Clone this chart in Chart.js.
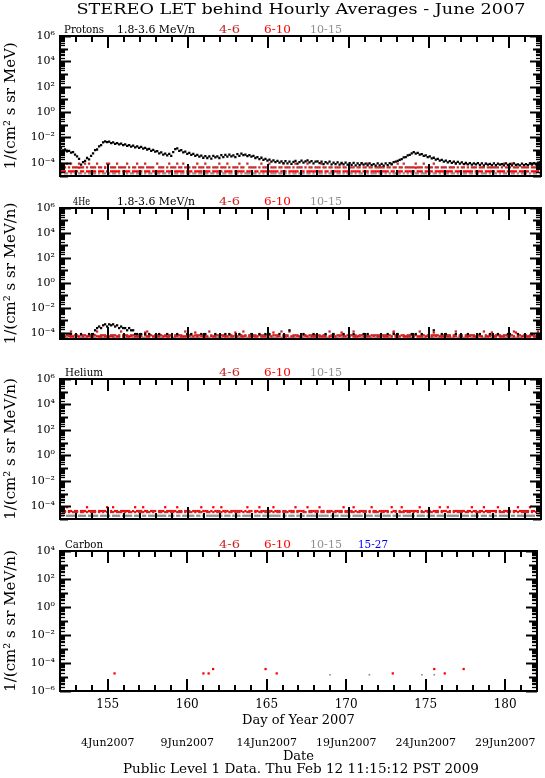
<!DOCTYPE html>
<html>
<head>
<meta charset="utf-8">
<script src="https://cdn.jsdelivr.net/npm/chart.js@4.4.0/dist/chart.umd.min.js"></script>
<style>
html, body { margin: 0; padding: 0; background: #fff; }
body { width: 545px; height: 778px; position: relative; overflow: hidden; }
canvas { position: absolute; left: 0px; }
</style>
</head>
<body>
<canvas id="c1" width="545" height="190" style="top:0px"></canvas>
<canvas id="c2" width="545" height="172" style="top:190px"></canvas>
<canvas id="c3" width="545" height="172" style="top:362px"></canvas>
<canvas id="c4" width="545" height="244" style="top:534px"></canvas>
<script>
var DAY_FIRST = 152;
var DAY_LAST = 182;
var STEP_HOURS = 3;

var dayTicks = [155, 160, 165, 170, 175, 180];
var dateLabels = ['4Jun2007', '9Jun2007', '14Jun2007', '19Jun2007', '24Jun2007', '29Jun2007'];

var yExpTop6 = [-4, -2, 0, 2, 4, 6];
var yLabTop6 = ['10\u207B\u2074', '10\u207B\u00B2', '10\u2070', '10\u00B2', '10\u2074', '10\u2076'];
var yExpTop4 = [-6, -4, -2, 0, 2, 4];
var yLabTop4 = ['10\u207B\u2076', '10\u207B\u2074', '10\u207B\u00B2', '10\u2070', '10\u00B2', '10\u2074'];

// protons 1.8-3.6 MeV, log10 of flux, 8 three-hour values per day
var protonLow = [
  -2.85, -3.02, -2.95, -3.1, -3.05, -3.2, -3.15, -3.35,
  -3.5, -3.68, -4.15, -3.95, -3.85, -3.62, -3.72, -3.45,
  -3.25, -3.0, -2.95, -2.7, -2.6, -2.38, -2.3, -2.36,
  -2.33, -2.45, -2.38, -2.5, -2.44, -2.55, -2.48, -2.6,
  -2.55, -2.66, -2.6, -2.72, -2.65, -2.78, -2.7, -2.82,
  -2.75, -2.88, -2.82, -2.95, -2.9, -3.05, -2.98, -3.12,
  -3.08, -3.25, -3.18, -3.35, -3.28, -3.42, -3.3, -3.45,
  -3.15, -2.92, -2.86, -3.05, -3.0, -3.18, -3.12, -3.3,
  -3.22, -3.38, -3.3, -3.45, -3.38, -3.52, -3.44, -3.6,
  -3.48, -3.62, -3.5, -3.66, -3.45, -3.58, -3.5, -3.62,
  -3.4, -3.55, -3.38, -3.52, -3.36, -3.5, -3.42, -3.56,
  -3.32, -3.45, -3.28, -3.4, -3.35, -3.48, -3.4, -3.52,
  -3.45, -3.62, -3.55, -3.7, -3.6, -3.76, -3.68, -3.82,
  -3.74, -3.9, -3.8, -3.95, -3.85, -3.98, -3.88, -4.02,
  -3.86, -4.05, -3.9, -4.08, -3.92, -3.85, -4.06, -3.95,
  -3.82, -3.98, -3.88, -3.8, -3.96, -3.86, -4.04, -3.9,
  -3.88, -4.02, -3.9, -4.1, -3.94, -4.05, -3.9, -4.12,
  -3.98, -4.1, -3.96, -4.14, -4.0, -4.12, -3.98, -4.15,
  -4.02, -4.16, -4.0, -4.2, -4.05, -4.18, -4.02, -4.15,
  -4.06, -4.2, -4.04, -4.18, -4.1, -4.22, -4.05, -4.2,
  -4.08, -4.22, -4.05, -4.18, -4.02, -4.12, -3.95, -3.9,
  -3.85, -3.76, -3.7, -3.58, -3.55, -3.42, -3.38, -3.25,
  -3.15, -3.28, -3.22, -3.36, -3.32, -3.45, -3.42, -3.55,
  -3.5, -3.65, -3.6, -3.75, -3.68, -3.82, -3.76, -3.9,
  -3.82, -3.96, -3.86, -4.0, -3.9, -4.04, -3.92, -4.06,
  -3.96, -4.1, -4.0, -4.12, -4.02, -4.15, -4.04, -4.12,
  -4.02, -4.16, -4.05, -4.2, -4.06, -4.14, -4.08, -4.18,
  -4.04, -4.18, -4.06, -4.15, -4.1, -4.2, -4.05, -4.16,
  -4.08, -4.2, -4.04, -4.16, -4.12, -4.2, -4.06, -4.18,
  -4.1, -4.18, -4.05, -4.14, -4.02, -4.12, -3.98, -3.95
];

// low-count channels: counts per 3-hour bin (0 = empty), one group of 8 per day
var protonCh46 = "21121211 12112121 11211012 21112111 12101121 11211110 21110121 11211211 10112111 21101112 11121011 12110211 11012111 21110112 11101211 10121101 11211011 01112110 11101121 12110111 11011211 21121111 12111211 11211011 10111210 11210111 01112111 11101211 12111011 11211112";
var protonCh610 = "11101111 12110111 11011121 01111101 11101111 10111011 11110111 01111101 11011110 11101111 10111101 11110111 01101111 11111011 10111110 11011111 11101101 11110111 01111101 11011111 11110110 11101111 12111011 11011111 11110111 01111101 11101111 10111101 11110111 11011112";
var protonCh1015 = "10110101 01101011 11010110 10110101 01011011 10101101 11011010 01101101 10110110 11011011 01101101 10101110 11010101 01110110 10101101 11011010 01101011 10110101 11010110 01011101 10101011 11010101 01101110 10110101 11011010 01101101 10111010 11010110 01101011 10101101";
var protonUnit46 = 4.4e-5, protonUnit610 = 2.1e-5, protonUnit1015 = 1.5e-5;

var he4Low = "01000100 00100010 12343564 65645343 32322110 10101000 01000100 00100001 01000010 10000100 00101000 01000001 00010010 10000100 00200000 01000010 00001000 10000100 00100001 01000000 00010010 10000001 01001000 00200010 10000100 00010000 01000010 00100001 10001000 00010011";
var he4Ch46 = "11011201 10111011 11201110 01110121 11011011 10121101 11101011 01111021 11011101 10210111 11101101 01121010 11011111 10111021 11201110 01101111 11011021 10111101 11210110 01011111 11101021 10110111 11021101 01111011 11101201 10111110 11021011 01110111 11201101 10111021";
var he4Ch610 = "01101110 11010111 10111011 11101101 01110111 10211011 11011110 01101111 10121011 11011101 01110112 10111011 11101110 01201101 11011011 10110111 01111011 11012110 10111101 11101011 01110121 11011110 10111011 01210111 11101101 10111011 01101112 11011101 10121011 11101110";
var he4Ch1015 = "11110111 01111101 11011111 10111101 11101111 01111011 11110110 11011111 01111101 11101111 10111110 11110111 01101111 11111011 10111101 11011111 01111110 11101111 10111011 11110111 01111101 11011111 10111110 11101111 01111011 11110111 10111101 11011111 01111110 11101111";
var he4UnitLow = 7.9e-5, he4Unit46 = 6.3e-5, he4Unit610 = 5.2e-5, he4Unit1015 = 4.0e-5;

var heCh46 = "01101011 10110101 11010101 01101110 10110101 11011010 01101101 10111010 11010110 01101011 10101101 11010110 01011011 10101101 11011010 01101101 10110110 11011011 01101101 10101110 11010101 01110110 10101101 11011010 01101011 10110101 11010110 01011101 10101011 11010101";
var heCh610 = "11121101 10111211 11011112 01211011 11101211 12110111 01112111 11211011 10111121 11012111 21110111 11101211 01121111 11211101 10111211 11021111 12110111 01111211 11210111 10121101 11110211 01211111 11121011 10111211 12101111 11011211 01121111 11210111 10112111 11211011";
var heCh1015 = "11011111 01111011 11101111 10111101 11110111 01101111 11111011 10110111 11101101 01111111 10111011 11011111 01110111 11111101 10111011 11011111 01111101 11101111 10111110 11110111 01111011 11011111 10111101 11101111 01111110 11110111 10111011 11011111 01101111 11111011";
var heUnit46 = 3.5e-5, heUnit610 = 4.2e-5, heUnit1015 = 1.8e-5;

// carbon: a few isolated hours
var carbon610Days = [155.43, 161.02, 161.35, 161.63, 164.93, 165.63, 172.93, 175.54, 176.2, 177.39, 181.97];
var carbon610Vals = [1.8e-5, 1.8e-5, 1.8e-5, 3.7e-5, 3.7e-5, 1.8e-5, 1.8e-5, 3.7e-5, 1.8e-5, 3.7e-5, 1.8e-5];
var carbon1015Days = [168.98, 171.46, 174.76, 175.54];
var carbon1015Vals = [1.45e-5, 1.45e-5, 1.45e-5, 1.45e-5];

var BLACK = '#000000', DKRED = '#c62828', RED = '#ff0000', GRAY = '#8f8f8f', BLUE = '#0000ff';
var FONT = 'DejaVu Serif';

function binDay(i) {
  return DAY_FIRST + (i + 0.5) * STEP_HOURS / 24;
}

function fromLog(arr) {
  return arr.map(function(v, i) { return {x: binDay(i), y: Math.pow(10, v)}; });
}

function fromCounts(str, unit) {
  var out = [];
  str.replace(/\s+/g, '').split('').forEach(function(c, i) {
    var n = Number(c);
    if (n > 0) out.push({x: binDay(i), y: n * unit});
  });
  return out;
}

function fromPairs(days, vals) {
  return days.map(function(d, i) { return {x: d, y: vals[i]}; });
}

function series(label, data, color, order, r) {
  return {
    label: label, data: data, order: order,
    backgroundColor: color, borderColor: color,
    pointStyle: 'rect', pointRadius: r || 1.6, pointBorderWidth: 0,
    showLine: false
  };
}

function fitText(ctx, text, left, y, w, font, color) {
  ctx.save();
  ctx.font = font;
  ctx.fillStyle = color;
  ctx.textBaseline = 'middle';
  ctx.textAlign = 'left';
  var tw = ctx.measureText(text).width;
  ctx.translate(left, y);
  ctx.scale(w / tw, 1);
  ctx.fillText(text, 0, 0);
  ctx.restore();
}

function seg(ctx, x1, y1, x2, y2) {
  ctx.beginPath();
  ctx.moveTo(x1, y1);
  ctx.lineTo(x2, y2);
  ctx.stroke();
}

// box round the plot, inward ticks on all four sides
var framePlugin = {
  id: 'frame',
  afterDraw: function(chart) {
    var ctx = chart.ctx, a = chart.chartArea;
    var xs = chart.scales.x, ys = chart.scales.y;
    var L = Math.round(a.left), R = Math.round(a.right);
    var T = Math.round(a.top), B = Math.round(a.bottom);
    ctx.save();
    ctx.strokeStyle = '#000';
    ctx.lineWidth = 2;
    ctx.strokeRect(L, T, R - L, B - T);
    for (var day = DAY_FIRST; day <= DAY_LAST; day++) {
      var px = Math.round(xs.getPixelForValue(day));
      var tl = day % 5 === 0 ? 12 : 6;
      seg(ctx, px, B, px, B - tl);
      seg(ctx, px, T, px, T + tl);
    }
    var lo = Math.log10(ys.min), hi = Math.log10(ys.max);
    for (var k = Math.floor(lo); k <= Math.ceil(hi); k++) {
      for (var mant = 1; mant < 10; mant++) {
        var v = mant * Math.pow(10, k);
        if (v < ys.min * 0.999 || v > ys.max * 1.001) continue;
        var py = Math.round(ys.getPixelForValue(v)) + 0.5;
        var yl = mant === 1 ? (k % 2 === 0 ? 11 : 8) : 5;
        ctx.lineWidth = mant === 1 ? 2 : 1.3;
        seg(ctx, L, py, L + yl, py);
        seg(ctx, R, py, R - yl, py);
      }
    }
    ctx.restore();
  }
};

var headerPlugin = {
  id: 'header',
  afterDraw: function(chart, args, opts) {
    var ctx = chart.ctx, a = chart.chartArea;
    (opts.items || []).forEach(function(it) {
      fitText(ctx, it.t, it.x, a.top - 6, it.w, '11px "' + FONT + '"', it.c);
    });
    (opts.free || []).forEach(function(it) {
      fitText(ctx, it.t, it.cx - it.w / 2, it.y, it.w, it.f, '#000');
    });
  }
};

function channelRow(name, nameX, nameW, withLow, withBlue) {
  var row = [{t: name, x: nameX, w: nameW, c: BLACK}];
  if (withLow) row.push({t: '1.8-3.6 MeV/n', x: 117, w: 78, c: BLACK});
  row.push({t: '4-6', x: 219, w: 21, c: DKRED});
  row.push({t: '6-10', x: 264, w: 27, c: RED});
  row.push({t: '10-15', x: 310, w: 32, c: GRAY});
  if (withBlue) row.push({t: '15-27', x: 358, w: 30, c: BLUE});
  return row;
}

function makePanel(id, opt) {
  var scales = {
    x: {
      type: 'linear', min: DAY_FIRST, max: DAY_LAST,
      display: false
    },
    y: {
      type: 'logarithmic', position: 'left',
      min: opt.yMin, max: opt.yMax,
      afterFit: function(s) { s.width = 60; },
      afterBuildTicks: function(s) {
        s.ticks = opt.yExp.map(function(e) { return {value: Math.pow(10, e)}; });
      },
      ticks: {
        autoSkip: false, padding: 5, color: '#000',
        font: {family: FONT, size: 11},
        callback: function(v, i) { return opt.yLab[i]; }
      },
      grid: {display: false, drawTicks: false},
      border: {display: false},
      title: {
        display: true, text: opt.yTitle, color: '#000',
        font: {family: FONT, size: 15}, padding: {top: 2, bottom: 0}
      }
    }
  };
  if (opt.bottomAxes) {
    scales.x = {
      type: 'linear', min: DAY_FIRST, max: DAY_LAST, position: 'bottom', weight: 1,
      afterFit: function(s) { s.height = 37; },
      afterBuildTicks: function(s) {
        s.ticks = dayTicks.map(function(d) { return {value: d}; });
      },
      ticks: {
        autoSkip: false, maxRotation: 0, padding: 7, color: '#000',
        font: {family: FONT, size: 12},
        callback: function(v) { return String(v); }
      },
      grid: {display: false, drawTicks: false},
      border: {display: false},
      title: {
        display: true, text: 'Day of Year 2007', color: '#000',
        font: {family: FONT, size: 13}, padding: {top: 0, bottom: 0}
      }
    };
    scales.xd = {
      type: 'linear', min: DAY_FIRST, max: DAY_LAST, position: 'bottom', weight: 2,
      afterFit: function(s) { s.height = 36; },
      afterBuildTicks: function(s) {
        s.ticks = dayTicks.map(function(d) { return {value: d}; });
      },
      ticks: {
        autoSkip: false, maxRotation: 0, padding: 9, color: '#000',
        font: {family: FONT, size: 11},
        callback: function(v, i) { return dateLabels[i]; }
      },
      grid: {display: false, drawTicks: false},
      border: {display: false},
      title: {
        display: true, text: 'Date', color: '#000',
        font: {family: FONT, size: 13}, padding: {top: 0, bottom: 0}
      }
    };
  }
  return new Chart(document.getElementById(id), {
    type: 'scatter',
    data: {datasets: opt.datasets},
    options: {
      responsive: false,
      animation: false,
      devicePixelRatio: 1,
      layout: {padding: opt.padding},
      plugins: {
        legend: {display: false},
        tooltip: {enabled: false},
        title: {display: false},
        header: {items: opt.header, free: opt.free || []}
      },
      scales: scales
    },
    plugins: [framePlugin, headerPlugin]
  });
}

makePanel('c1', {
  yMin: 1e-5, yMax: 1e6, yExp: yExpTop6, yLab: yLabTop6,
  yTitle: '1/(cm\u00B2 s sr MeV)',
  padding: {top: 36, bottom: 14.5, left: 0, right: 2},
  header: channelRow('Protons', 64, 40, true, false),
  free: [{t: 'STEREO LET behind Hourly Averages - June 2007', cx: 301, y: 10, w: 449, f: '14px "' + FONT + '"'}],
  datasets: [
    series('1.8-3.6', fromLog(protonLow), BLACK, 0),
    series('4-6', fromCounts(protonCh46, protonUnit46), DKRED, 1),
    series('6-10', fromCounts(protonCh610, protonUnit610), RED, 2),
    series('10-15', fromCounts(protonCh1015, protonUnit1015), GRAY, 3)
  ]
});

makePanel('c2', {
  yMin: Math.pow(10, -4.5), yMax: 1e6, yExp: yExpTop6, yLab: yLabTop6,
  yTitle: '1/(cm\u00B2 s sr MeV/n)',
  padding: {top: 18, bottom: 23, left: 0, right: 2},
  header: channelRow('4He', 73, 17, true, false),
  datasets: [
    series('1.8-3.6', fromCounts(he4Low, he4UnitLow), BLACK, 0),
    series('4-6', fromCounts(he4Ch46, he4Unit46), DKRED, 1),
    series('6-10', fromCounts(he4Ch610, he4Unit610), RED, 2),
    series('10-15', fromCounts(he4Ch1015, he4Unit1015), GRAY, 3)
  ]
});

makePanel('c3', {
  yMin: 1e-5, yMax: 1e6, yExp: yExpTop6, yLab: yLabTop6,
  yTitle: '1/(cm\u00B2 s sr MeV/n)',
  padding: {top: 17, bottom: 15, left: 0, right: 2},
  header: channelRow('Helium', 65, 38, false, false),
  datasets: [
    series('4-6', fromCounts(heCh46, heUnit46), DKRED, 1),
    series('6-10', fromCounts(heCh610, heUnit610), RED, 2),
    series('10-15', fromCounts(heCh1015, heUnit1015), GRAY, 3)
  ]
});

makePanel('c4', {
  yMin: 1e-6, yMax: 1e4, yExp: yExpTop4, yLab: yLabTop4,
  yTitle: '1/(cm\u00B2 s sr MeV/n)',
  padding: {top: 17, bottom: 14, left: 0, right: 2},
  bottomAxes: true,
  header: channelRow('Carbon', 65, 38, false, true),
  free: [{t: 'Public Level 1 Data. Thu Feb 12 11:15:12 PST 2009', cx: 301, y: 236, w: 356, f: '12px "' + FONT + '"'}],
  datasets: [
    series('6-10', fromPairs(carbon610Days, carbon610Vals), RED, 1, 1.6),
    series('10-15', fromPairs(carbon1015Days, carbon1015Vals), GRAY, 2, 1.2)
  ]
});
</script>
</body>
</html>
